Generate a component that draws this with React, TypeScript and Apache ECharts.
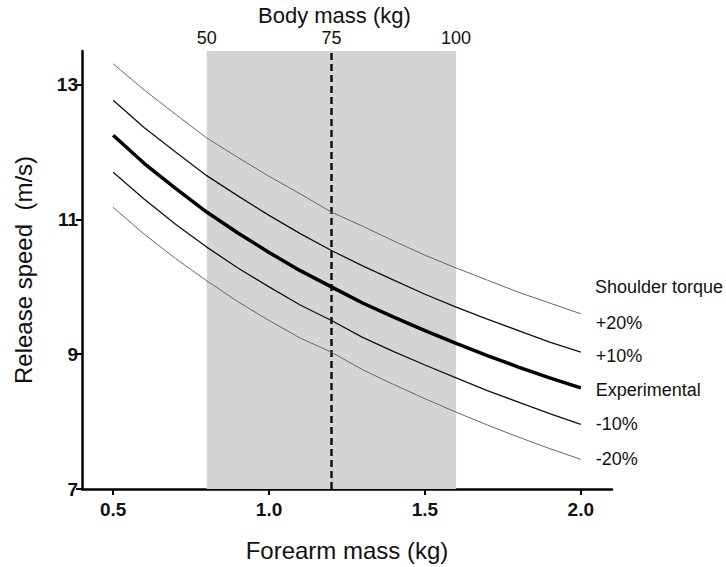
import React, { useEffect, useRef } from "react";
import * as echarts from "echarts";

const forearmMass = [0.5, 0.6, 0.7, 0.8, 0.9, 1.0, 1.1, 1.2, 1.3, 1.4, 1.5, 1.6, 1.7, 1.8, 1.9, 2.0];
const plus20 = [13.31, 12.92, 12.56, 12.21, 11.92, 11.64, 11.38, 11.11, 10.9, 10.68, 10.47, 10.28, 10.1, 9.92, 9.76, 9.6];
const plus10 = [12.77, 12.36, 12.0, 11.65, 11.35, 11.06, 10.79, 10.54, 10.31, 10.1, 9.89, 9.7, 9.52, 9.35, 9.18, 9.03];
const experimental = [12.25, 11.83, 11.46, 11.11, 10.8, 10.51, 10.24, 10.0, 9.76, 9.55, 9.35, 9.16, 8.98, 8.81, 8.65, 8.5];
const minus10 = [11.7, 11.3, 10.93, 10.59, 10.28, 10.0, 9.73, 9.5, 9.25, 9.04, 8.84, 8.65, 8.46, 8.29, 8.12, 7.96];
const minus20 = [11.18, 10.78, 10.42, 10.09, 9.78, 9.5, 9.24, 9.03, 8.77, 8.55, 8.34, 8.14, 7.95, 7.77, 7.6, 7.44];

const xTicks = [0.5, 1.0, 1.5, 2.0];
const yTicks = [7, 9, 11, 13];
const bodyMassTicks = [50, 75, 100];
const bodyMassPerForearm = 62.5;
const rangeStart = 0.8;
const rangeEnd = 1.6;
const referenceMass = 1.2;

const FONT = "Liberation Sans, Arial, Helvetica, sans-serif";

export default function App() {
  const ref = useRef<HTMLDivElement>(null);
  useEffect(() => {
    if (!ref.current) return;
    const chart = echarts.init(ref.current, null, { renderer: "svg" });
    const pairs = (ys: number[]) => forearmMass.map((x, i) => [x, ys[i]]);
    const mkLine = (name: string, ys: number[], width: number, color: string, dy: number) => ({
      type: "line",
      name,
      data: pairs(ys),
      showSymbol: false,
      symbol: "none",
      smooth: false,
      lineStyle: { width, color },
      z: 5,
      endLabel: {
        show: true,
        formatter: name,
        color: "#111",
        fontSize: 18,
        fontFamily: FONT,
        distance: 15,
        offset: [0, dy],
      },
    });
    chart.setOption({
      animation: false,
      backgroundColor: "#fff",
      grid: { left: 82, right: 114, top: 51, bottom: 74, containLabel: false },
      xAxis: [
        {
          type: "value",
          min: 0.4,
          max: 2.1,
          name: "Forearm mass (kg)",
          nameLocation: "middle",
          nameGap: 49,
          nameTextStyle: { fontSize: 24, fontFamily: FONT, color: "#111" },
          axisLine: { show: true, onZero: false, lineStyle: { color: "#000", width: 2.5 } },
          axisTick: { show: true, length: 6, customValues: xTicks, lineStyle: { color: "#000", width: 2 } },
          axisLabel: {
            customValues: xTicks,
            formatter: (v: number) => v.toFixed(1),
            fontSize: 19,
            fontWeight: "bold",
            fontFamily: FONT,
            color: "#111",
            margin: 11,
          },
          splitLine: { show: false },
        },
        {
          type: "value",
          position: "top",
          min: 0.4 * bodyMassPerForearm,
          max: 2.1 * bodyMassPerForearm,
          axisLine: { show: false },
          axisTick: { show: false },
          axisLabel: {
            customValues: bodyMassTicks,
            fontSize: 18,
            fontFamily: FONT,
            color: "#111",
            margin: 4,
          },
          splitLine: { show: false },
        },
      ],
      yAxis: {
        type: "value",
        min: 7,
        max: 13.5,
        name: "Release speed  (m/s)",
        nameLocation: "middle",
        nameGap: 47,
        nameTextStyle: { fontSize: 24, fontFamily: FONT, color: "#111" },
        axisLine: { show: true, onZero: false, lineStyle: { color: "#000", width: 2.5 } },
        axisTick: { show: true, length: 6, customValues: yTicks, lineStyle: { color: "#000", width: 2 } },
        axisLabel: {
          customValues: yTicks,
          fontSize: 19,
          fontWeight: "bold",
          fontFamily: FONT,
          color: "#111",
          margin: 4,
        },
        splitLine: { show: false },
      },
      graphic: [
        {
          type: "text",
          left: 258,
          top: 4,
          style: { text: "Body mass (kg)", fontSize: 22, fontFamily: FONT, fill: "#111" },
        },
        {
          type: "text",
          left: 595,
          top: 278,
          style: { text: "Shoulder torque", fontSize: 18, fontFamily: FONT, fill: "#111" },
        },
      ],
      series: [
        {
          type: "line",
          data: [],
          z: 1,
          markArea: {
            silent: true,
            itemStyle: { color: "#d4d4d4" },
            data: [[{ xAxis: rangeStart }, { xAxis: rangeEnd }]],
          },
          markLine: {
            silent: true,
            symbol: "none",
            label: { show: false },
            lineStyle: { color: "#111", width: 2.5, type: [7, 4] },
            data: [{ xAxis: referenceMass }],
          },
        },
        mkLine("+20%", plus20, 1, "#666", 9),
        mkLine("+10%", plus10, 1.3, "#111", 4),
        mkLine("Experimental", experimental, 3.5, "#000", 2),
        mkLine("-10%", minus10, 1.3, "#111", 0),
        mkLine("-20%", minus20, 1, "#666", 0),
      ],
    });
    return () => chart.dispose();
  }, []);
  return <div ref={ref} style={{ position: "fixed", left: 0, top: 0, width: 726, height: 567 }} />;
}
